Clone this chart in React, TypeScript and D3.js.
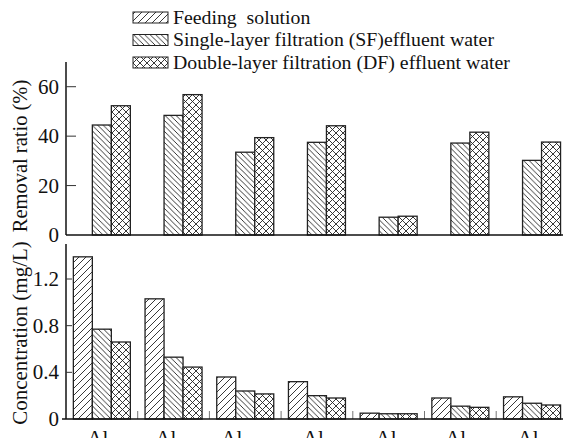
import React from "react";
import * as d3 from "d3";

// categories (Al species) – subscripts
const categories = ["T", "a-s", "(a+s)", "S", "s", "O", "L"];
const series = ["Feeding solution", "Single-layer filtration (SF)", "Double-layer filtration (DF)"];
const legendLabels = [
  "Feeding\u00a0\u00a0solution",
  "Single-layer filtration (SF)effluent water",
  "Double-layer filtration (DF) effluent water",
];

// concentration (mg/L)
const feeding = [1.39, 1.03, 0.36, 0.32, 0.05, 0.18, 0.19];
const sfConc = [0.77, 0.53, 0.24, 0.2, 0.045, 0.11, 0.135];
const dfConc = [0.66, 0.445, 0.215, 0.18, 0.045, 0.1, 0.12];

// removal ratio (%)
const sfRemoval = [44.5, 48.4, 33.5, 37.5, 7.2, 37.2, 30.2];
const dfRemoval = [52.3, 56.8, 39.4, 44.2, 7.6, 41.6, 37.6];

const removalTicks = [0, 20, 40, 60];
const concTicks = [0, 0.4, 0.8, 1.2];

const patternIds = ["pFeed", "pSF", "pDF"];

const W = 563;
const H = 438;
const left = 66;
const step = 71.7;

const App = () => {
  const x = d3
    .scaleBand<string>()
    .domain(categories)
    .range([left, left + step * categories.length])
    .padding(0);
  const bw = x.bandwidth();
  const pad = bw * 0.1025;
  const sub = d3.scaleBand<string>().domain(series).range([pad, bw - pad]);

  const yTop = d3.scaleLinear().domain([0, 70]).range([235, 62]);
  const yBot = d3.scaleLinear().domain([0, 1.5]).range([419, 244]);

  const concData = [feeding, sfConc, dfConc];
  const removalData = [null, sfRemoval, dfRemoval];

  const font = "'Liberation Serif', 'Times New Roman', serif";

  return (
    <svg
      width={W}
      height={H}
      style={{ position: "absolute", left: 0, top: 0, background: "#fff" }}
      fontFamily={font}
    >
      <defs>
        <pattern id="pFeed" patternUnits="userSpaceOnUse" width={7} height={7}>
          <rect width={7} height={7} fill="#fff" />
          <path d="M-1,1 l2,-2 M0,7 l7,-7 M6,8 l2,-2" stroke="#222" strokeWidth={0.9} />
        </pattern>
        <pattern id="pSF" patternUnits="userSpaceOnUse" width={5.5} height={5.5}>
          <rect width={5.5} height={5.5} fill="#fff" />
          <path d="M-1,4.5 l2,2 M0,0 l5.5,5.5 M4.5,-1 l2,2" stroke="#222" strokeWidth={0.9} />
        </pattern>
        <pattern id="pDF" patternUnits="userSpaceOnUse" width={7} height={7}>
          <rect width={7} height={7} fill="#fff" />
          <path
            d="M-1,1 l2,-2 M0,7 l7,-7 M6,8 l2,-2 M-1,6 l2,2 M0,0 l7,7 M6,-1 l2,2"
            stroke="#222"
            strokeWidth={0.9}
          />
        </pattern>
      </defs>

      {/* legend */}
      {series.map((s, i) => {
        const ly = 12 + i * 22.5;
        return (
          <g key={s}>
            <rect x={133} y={ly} width={35} height={11} fill={`url(#${patternIds[i]})`} stroke="#222" strokeWidth={1} />
            <text x={173} y={ly + 11.5} fontSize={19.8} fill="#111">
              {legendLabels[i]}
            </text>
          </g>
        );
      })}

      {/* top panel: removal ratio */}
      {removalData.map((vals, si) =>
        vals
          ? vals.map((v, ci) => (
              <rect
                key={`t${si}-${ci}`}
                x={x(categories[ci])! + sub(series[si])!}
                y={yTop(v)}
                width={sub.bandwidth()}
                height={yTop(0) - yTop(v)}
                fill={`url(#${patternIds[si]})`}
                stroke="#222"
                strokeWidth={1.3}
              />
            ))
          : null
      )}
      <line x1={left} x2={left} y1={62} y2={yTop(0)} stroke="#111" strokeWidth={1.5} />
      <line x1={left} x2={W} y1={yTop(0)} y2={yTop(0)} stroke="#111" strokeWidth={1.5} />
      {removalTicks.map((t) => (
        <g key={`rt${t}`}>
          {t > 0 && <line x1={left} x2={left + 10} y1={yTop(t)} y2={yTop(t)} stroke="#333" strokeWidth={1} />}
          <text x={59} y={yTop(t) + 7} textAnchor="end" fontSize={21} fill="#111">
            {t}
          </text>
        </g>
      ))}
      <text
        transform={`translate(27,156) rotate(-90)`}
        textAnchor="middle"
        fontSize={20.5}
        fill="#111"
      >
        Removal ratio (%)
      </text>

      {/* bottom panel: concentration */}
      {concData.map((vals, si) =>
        vals.map((v, ci) => (
          <rect
            key={`b${si}-${ci}`}
            x={x(categories[ci])! + sub(series[si])!}
            y={yBot(v)}
            width={sub.bandwidth()}
            height={yBot(0) - yBot(v)}
            fill={`url(#${patternIds[si]})`}
            stroke="#222"
            strokeWidth={1.3}
          />
        ))
      )}
      {categories.slice(1).map((c) => (
        <line key={`gt${c}`} x1={x(c)!} x2={x(c)!} y1={yBot(0) - 8} y2={yBot(0)} stroke="#777" strokeWidth={1} />
      ))}
      <line x1={left} x2={left} y1={244} y2={yBot(0)} stroke="#111" strokeWidth={1.5} />
      <line x1={62} x2={W} y1={yBot(0)} y2={yBot(0)} stroke="#111" strokeWidth={1.5} />
      {concTicks.map((t) => (
        <g key={`ct${t}`}>
          {t > 0 && <line x1={left} x2={left + 6} y1={yBot(t)} y2={yBot(t)} stroke="#333" strokeWidth={1} />}
          <text x={59} y={yBot(t) + 7} textAnchor="end" fontSize={21} fill="#111">
            {t === 0 ? "0" : t.toFixed(1)}
          </text>
        </g>
      ))}
      <text
        transform={`translate(27,333) rotate(-90)`}
        textAnchor="middle"
        fontSize={21}
        fill="#111"
      >
        Concentration (mg/L)
      </text>

      {/* x labels (cut at the bottom edge, as in the reference) */}
      {categories.map((c) => (
        <text key={`xl${c}`} x={x(c)! + bw / 2} y={445} textAnchor="middle" fontSize={21} fill="#111">
          Al
          <tspan fontSize={13} dy={3}>
            {c}
          </tspan>
        </text>
      ))}
    </svg>
  );
};

export default App;
